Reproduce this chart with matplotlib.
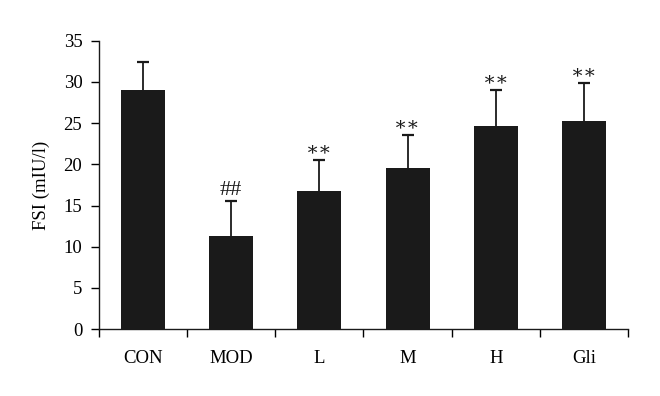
import numpy as np
import matplotlib.pyplot as plt

groups = ["CON", "MOD", "L", "M", "H", "Gli"]
means = [29.0, 11.3, 16.8, 19.5, 24.6, 25.3]
errs = [3.4, 4.2, 3.7, 4.1, 4.4, 4.6]
marks = ["", "##", "∗∗", "∗∗", "∗∗", "∗∗"]

plt.rcParams['font.family'] = ['Liberation Serif', 'DejaVu Serif']

fig = plt.figure(figsize=(6.6, 3.96), dpi=100)
ax = fig.add_axes([0.15, 0.169, 0.8015, 0.728])

x = np.arange(len(groups))
m = np.array(means)
e = np.array(errs)
ax.bar(x, m, width=0.5, color="#1a1a1a", zorder=2)
# upper error bars only
ax.vlines(x, m, m + e, color="#1a1a1a", linewidth=1.3, zorder=3)
ax.plot(x, m + e, linestyle="none", marker="_", markersize=9,
        markeredgewidth=1.6, color="#1a1a1a", zorder=3)

for xi, top, s in zip(x, m + e, marks):
    if s:
        size = 16 if s == "##" else 14
        ax.text(xi, top + 0.2, s, ha="center", va="bottom", fontsize=size,
                color="#1a1a1a")

ax.set_xlim(-0.5, len(groups) - 0.5)
ax.set_ylim(0, 35)
ax.set_yticks(np.arange(0, 36, 5))
ax.set_xticks(x)
ax.set_xticklabels(groups, fontsize=13.5)
ax.set_xticks(np.arange(-0.5, len(groups)), minor=True)
ax.tick_params(axis="x", which="major", length=0, pad=15)
ax.tick_params(axis="x", which="minor", length=6, width=1, direction="out")
ax.tick_params(axis="y", length=6, width=1, labelsize=13.5, pad=6)
ax.set_ylabel("FSI (mIU/l)", fontsize=13.5, labelpad=10)

for side in ["top", "right"]:
    ax.spines[side].set_visible(False)
for side in ["left", "bottom"]:
    ax.spines[side].set_linewidth(1)
    ax.spines[side].set_color("#1a1a1a")

fig.savefig("out.png", dpi=100)
